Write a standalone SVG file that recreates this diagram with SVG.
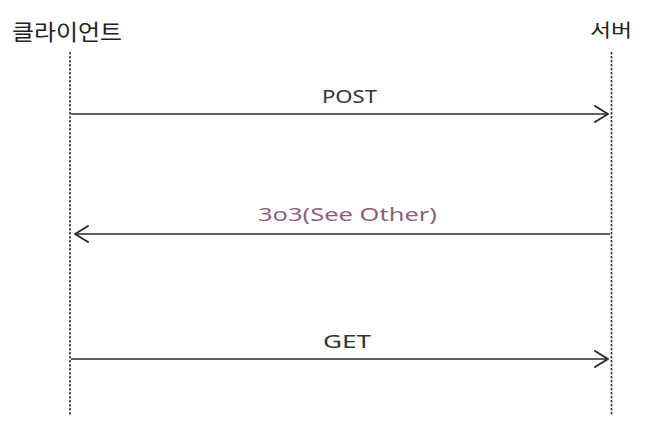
<svg xmlns="http://www.w3.org/2000/svg" width="647" height="433" viewBox="0 0 647 433">
<style>
.life{stroke:#333;stroke-width:1.6;stroke-dasharray:2.5 1.5;fill:none}
.msg{stroke:#2a2a2a;stroke-width:1.5;fill:none}
.head{stroke:#2a2a2a;stroke-width:2;fill:none;stroke-linecap:round;stroke-linejoin:round}
.actor{font-family:"Noto Sans CJK KR","Noto Sans",sans-serif;fill:#222}
.lbl{font-family:"Noto Sans","Liberation Sans",sans-serif;font-size:18px;fill:#333}
</style>
<rect width="647" height="433" fill="#fff"/>
<g id="client">
<text class="actor" x="12" y="40" font-size="22" textLength="110" lengthAdjust="spacingAndGlyphs">클라이언트</text>
<line class="life" x1="70" y1="52" x2="70" y2="415"/>
</g>
<g id="server">
<text class="actor" x="590" y="37" font-size="18" textLength="42" lengthAdjust="spacingAndGlyphs">서버</text>
<line class="life" x1="611.5" y1="52" x2="611.5" y2="415"/>
</g>
<g id="connectors">
<g id="post">
<line class="msg" x1="71" y1="114" x2="607" y2="114"/>
<polyline class="head" points="595,106 608,114 595,122"/>
<text class="lbl" x="322" y="103" textLength="55" lengthAdjust="spacingAndGlyphs">POST</text>
</g>
<g id="redirect">
<line class="msg" x1="76" y1="234" x2="610" y2="234"/>
<polyline class="head" points="88,226 75,234 88,242"/>
<text class="lbl" x="258" y="221" style="fill:#8e5f78" textLength="179" lengthAdjust="spacingAndGlyphs">3o3(See Other)</text>
</g>
<g id="get">
<line class="msg" x1="71" y1="359" x2="607" y2="359"/>
<polyline class="head" points="595,351 608,359 595,367"/>
<text class="lbl" x="323" y="348" textLength="48" lengthAdjust="spacingAndGlyphs">GET</text>
</g>
</g>
</svg>
